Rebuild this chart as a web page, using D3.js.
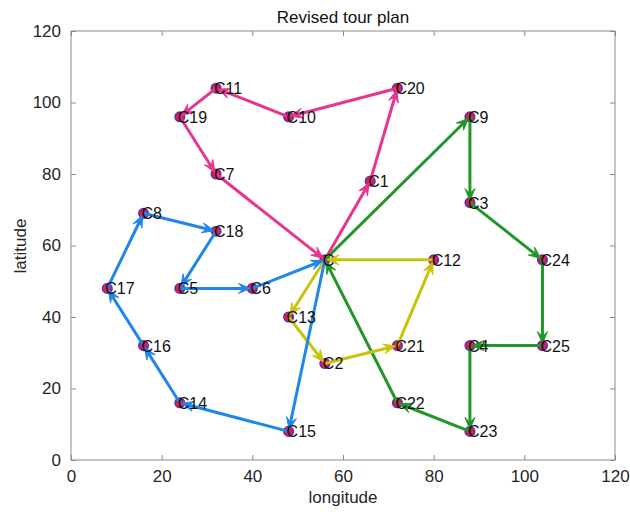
<!DOCTYPE html>
<html><head><meta charset="utf-8">
<script src="https://cdn.jsdelivr.net/npm/d3@7"></script>
<style>body{margin:0;background:#fff}svg{display:block}text{font-family:"Liberation Sans",Arial,sans-serif}</style>
</head><body>
<svg id="c" width="630" height="517"></svg>
<script>
const nodeNames = ["C","C1","C2","C3","C4","C5","C6","C7","C8","C9","C10","C11","C12","C13","C14","C15","C16","C17","C18","C19","C20","C21","C22","C23","C24","C25"];
const nodeLon   = [56,66,56,88,88,24,40,32,16,88,48,32,80,48,24,48,16,8,32,24,72,72,72,88,104,104];
const nodeLat   = [56,78,27,72,32,48,48,80,69,96,96,104,56,40,16,8,32,48,64,96,104,32,16,8,56,32];
const routePink   = ["C","C1","C20","C10","C11","C19","C7","C"];
const routeGreen  = ["C","C9","C3","C24","C25","C4","C23","C22","C"];
const routeYellow = ["C","C13","C2","C21","C12","C"];
const routeBlue   = ["C","C15","C14","C16","C17","C8","C18","C5","C6","C"];
const xTicks = [0,20,40,60,80,100,120];
const yTicks = [0,20,40,60,80,100,120];

const svg = d3.select("#c");
const x = d3.scaleLinear().domain([0,120]).range([71,615]);
const y = d3.scaleLinear().domain([0,120]).range([460,31]);
const pos = {};
nodeNames.forEach((n,i)=>pos[n]=[x(nodeLon[i]),y(nodeLat[i])]);

const FS = "17px";
const g = svg.append("g");
g.append("rect").attr("x",71).attr("y",31).attr("width",544).attr("height",429)
 .attr("fill","none").attr("stroke","#8a8a8a").attr("stroke-width",1);
const ax = g.append("g").attr("transform","translate(0,460)").call(d3.axisBottom(x).tickValues(xTicks).tickSize(-5).tickPadding(10));
const axT = g.append("g").attr("transform","translate(0,31)").call(d3.axisTop(x).tickValues(xTicks).tickSize(-5).tickFormat(""));
const ay = g.append("g").attr("transform","translate(71,0)").call(d3.axisLeft(y).tickValues(yTicks).tickSize(-5).tickPadding(10));
const ayR = g.append("g").attr("transform","translate(615,0)").call(d3.axisRight(y).tickValues(yTicks).tickSize(-5).tickFormat(""));
[ax,axT,ay,ayR].forEach(a=>{a.select(".domain").remove();a.selectAll("line").attr("stroke","#8a8a8a");
  a.selectAll("text").attr("fill","#262626").style("font-size",FS).style("font-family","'Liberation Sans',Arial,sans-serif");});

svg.append("text").attr("x",343).attr("y",23).attr("text-anchor","middle").attr("fill","#111").style("font-size",FS).text("Revised tour plan");
svg.append("text").attr("x",343).attr("y",503).attr("text-anchor","middle").attr("fill","#262626").style("font-size",FS).text("longitude");
svg.append("text").attr("transform","translate(26,246) rotate(-90)").attr("text-anchor","middle").attr("fill","#262626").style("font-size",FS).text("latitude");

// markers
svg.append("g").selectAll("circle").data(nodeNames).join("circle")
  .attr("cx",d=>pos[d][0]).attr("cy",d=>pos[d][1]).attr("r",4.8)
  .attr("fill","#e0203a").attr("stroke","#5a2bd0").attr("stroke-width",1.5);

function drawRoute(route,color){
  const gr = svg.append("g");
  for(let i=0;i<route.length-1;i++){
    const [x1,y1]=pos[route[i]], [x2,y2]=pos[route[i+1]];
    const a=Math.atan2(y2-y1,x2-x1);
    const tx=x2-Math.cos(a)*2, ty=y2-Math.sin(a)*2;
    gr.append("line").attr("x1",x1).attr("y1",y1).attr("x2",tx-Math.cos(a)*4).attr("y2",ty-Math.sin(a)*4)
      .attr("stroke",color).attr("stroke-width",3);
    const L=12, W=5, N=7;
    const ca=Math.cos(a), sa=Math.sin(a);
    const p=(d,w)=>[tx-ca*d- sa*w, ty-sa*d+ca*w];
    const pts=[[tx,ty],p(L,W),p(N,0),p(L,-W)];
    gr.append("path").attr("d","M"+pts.map(q=>q.join(",")).join("L")+"Z")
      .attr("fill",color).attr("stroke",color).attr("stroke-width",1).attr("stroke-linejoin","round");
  }
}
drawRoute(routePink,"#e8358f");
drawRoute(routeGreen,"#23962a");
drawRoute(routeYellow,"#c9c30a");
drawRoute(routeBlue,"#1f87ea");

// labels
svg.append("g").selectAll("text").data(nodeNames).join("text")
  .attr("x",d=>pos[d][0]-2).attr("y",d=>pos[d][1]+6).attr("fill","#111").style("font-size","16px").text(d=>d);
</script>
</body></html>
